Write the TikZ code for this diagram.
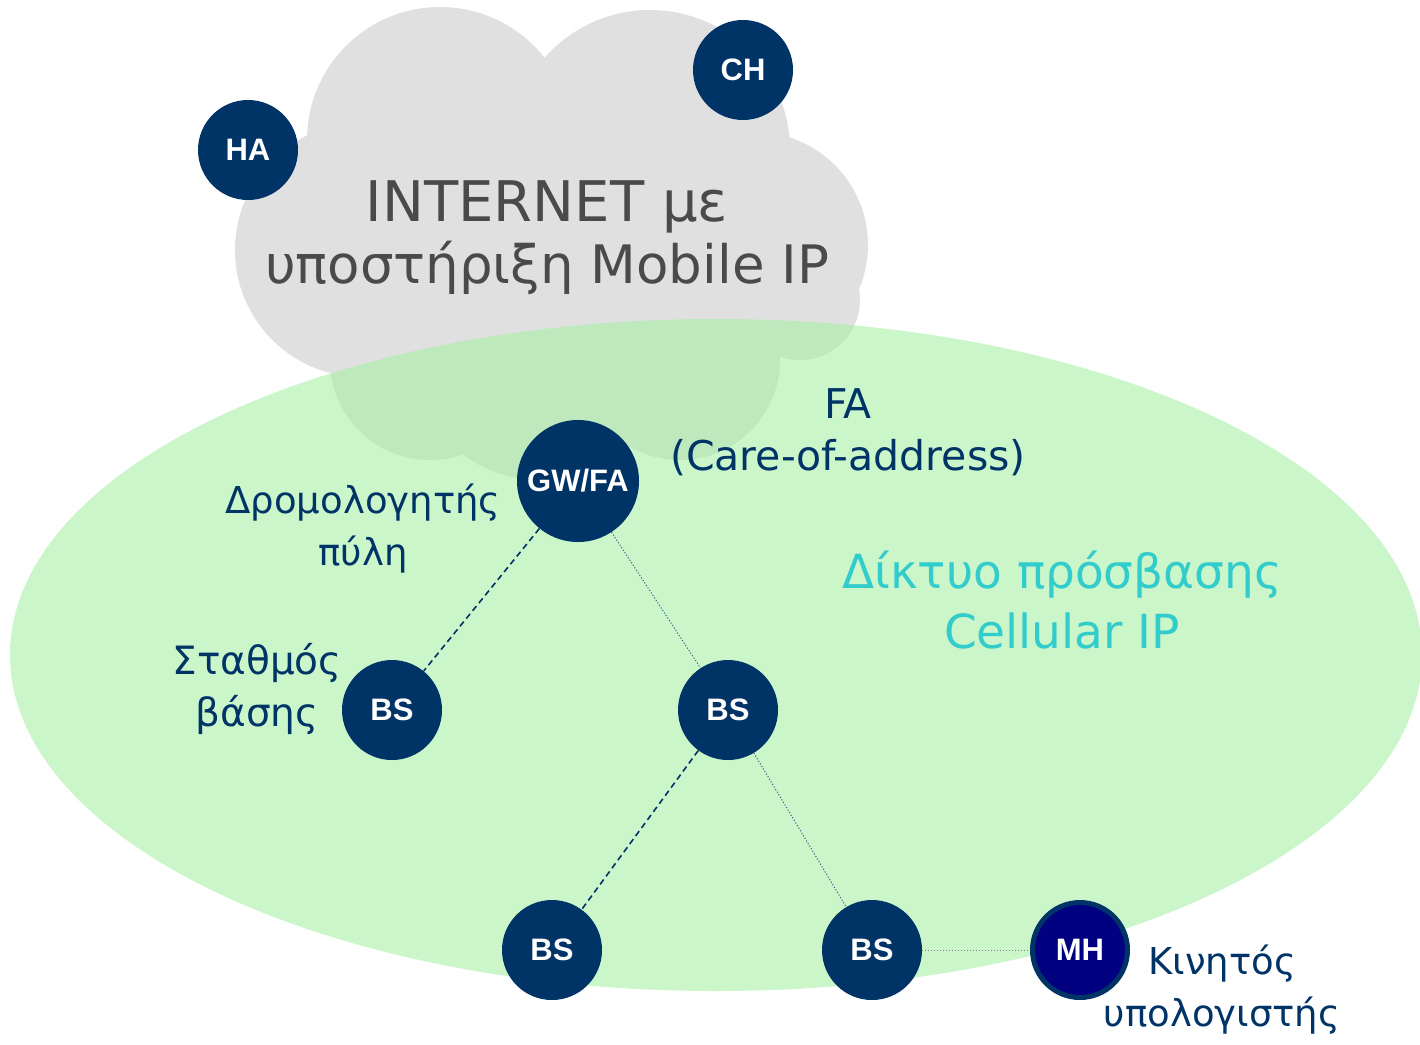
\documentclass[tikz,border=0pt]{standalone}
\usepackage{fontspec}
\setmainfont{DejaVu Sans}
\newfontfamily\nodefont{Liberation Sans}
\definecolor{navy}{HTML}{003366}
\definecolor{mhblue}{HTML}{000080}
\definecolor{cloudgray}{HTML}{E0E0E0}
\definecolor{netgreen}{HTML}{A6F0A6}
\definecolor{txtgray}{HTML}{4A4A4A}
\definecolor{turq}{HTML}{33CCCC}
\begin{document}
\begin{tikzpicture}[x=1pt,y=-1pt,
  station/.style={circle,fill=navy,minimum size=100pt,inner sep=0pt,text=white,font=\nodefont\bfseries\fontsize{31}{31}\selectfont},
  label/.style={text=navy,align=center,font=\fontsize{37}{52}\selectfont},
  dashlink/.style={navy,line width=1.6pt,dash pattern=on 6pt off 4pt},
  dotlink/.style={navy!80,line width=0.9pt,dash pattern=on 1.2pt off 1.8pt}]
\useasboundingbox (0,0) rectangle (1420,1044);
\clip (0,0) rectangle (1420,1044);
% cloud
\begin{scope}[fill=cloudgray]
  \fill (440,140) circle (133);
  \fill (650,150) circle (140);
  \fill (362,250) circle (127);
  \fill (755,245) circle (113);
  \fill (550,240) circle (170);
  \fill (540,350) circle (130);
  \fill (430,360) circle (100);
  \fill (680,360) circle (100);
  \fill (800,300) circle (60);
\end{scope}
% access network ellipse
\fill[netgreen,fill opacity=0.6] (716,655) ellipse (706 and 336);
% texts
\node[text=txtgray,align=center,font=\fontsize{53}{62}\selectfont] (inet) at (547,238)
  {\fontsize{56}{62}\selectfont INTERNET με\\υποστήριξη Mobile IP};
\node[label,font=\fontsize{41}{52}\selectfont] (fa) at (848,432) {FA\\(Care-of-address)};
\node[label] (gwlbl) at (363,529) {Δρομολογητής\\πύλη};
\node[label,font=\fontsize{39}{52}\selectfont] (bslbl) at (257,689) {Σταθμός\\βάσης};
\node[text=turq,align=center,font=\fontsize{47}{60}\selectfont] (acc) at (1062,600)
  {Δίκτυο πρόσβασης\\Cellular IP};
\node[label] (mhlbl) at (1222,990) {Κινητός\\υπολογιστής};
% stations
\node[station] (ch) at (743,70) {CH};
\node[station] (ha) at (248,150) {HA};
\node[station,minimum size=122pt] (gw) at (578,481) {GW/FA};
\node[station] (bs1) at (392,710) {BS};
\node[station] (bs2) at (728,710) {BS};
\node[station] (bs3) at (552,950) {BS};
\node[station] (bs4) at (872,950) {BS};
\node[station,fill=mhblue,draw=navy,line width=5pt,minimum size=95pt] (mh) at (1080,950) {MH};
% links
\draw[dashlink] (gw) -- (bs1);
\draw[dotlink] (gw) -- (bs2);
\draw[dashlink] (bs2) -- (bs3);
\draw[dotlink] (bs2) -- (bs4);
\draw[dotlink,gray] (bs4) -- (mh);
\end{tikzpicture}
\end{document}
